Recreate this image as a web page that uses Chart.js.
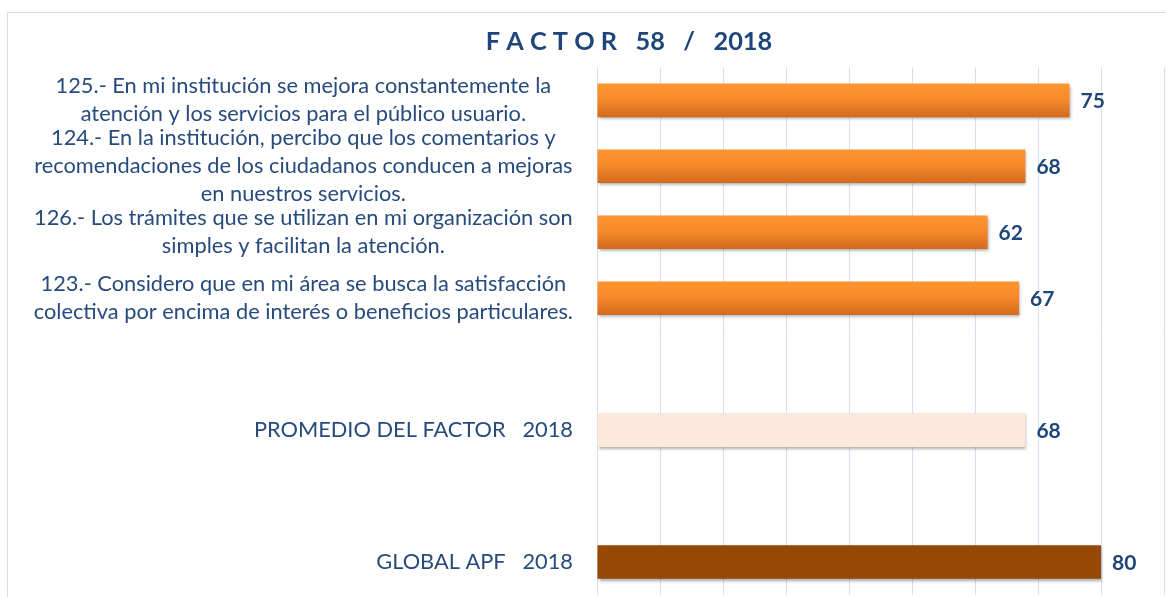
<!DOCTYPE html>
<html>
<head>
<meta charset="utf-8">
<script src="https://cdn.jsdelivr.net/npm/chart.js@4/dist/chart.umd.min.js"></script>
<style>
  html, body { margin: 0; padding: 0; background: #fff; }
  #wrap { position: relative; width: 1166px; height: 597px; overflow: hidden; }
  #frame { position: absolute; left: 7px; top: 12px; width: 1300px; height: 700px; border: 1px solid #d5e0ec; }
  #chart { position: absolute; left: 0; top: 0; }
</style>
</head>
<body>
<div id="wrap">
  <div id="frame"></div>
  <canvas id="chart" width="1166" height="597"></canvas>
</div>
<script>
// data, top to bottom
const categories = [
  ["125.- En mi institución se mejora constantemente la", "atención y los servicios para el público usuario."],
  ["124.- En la institución, percibo que los comentarios y", "recomendaciones de los ciudadanos conducen a mejoras", "en nuestros servicios."],
  ["126.- Los trámites que se utilizan en mi organización son", "simples y facilitan la atención."],
  ["123.- Considero que en mi área se busca la satisfacción", "colectiva por encima de interés o beneficios particulares."],
  "",
  "PROMEDIO DEL FACTOR   2018",
  "",
  "GLOBAL APF   2018"
];
const values = [75, 68, 62, 67, null, 68, null, 80];
const xTicks = [0, 10, 20, 30, 40, 50, 60, 70, 80, 90];

const textBlue = "#264b7c";
const labelFont = { family: "Lato", size: 21.8, lineHeight: 1.28 };

function barColor(context) {
  var i = context.dataIndex;
  if (i === 5) return "#fce9db";
  if (i === 7) return "#974706";
  var chart = context.chart;
  if (!chart.chartArea) return "#f28a2c";
  var y = chart.scales.y.getPixelForValue(i);
  var g = chart.ctx.createLinearGradient(0, y - 17, 0, y + 17);
  g.addColorStop(0, "#ff952f");
  g.addColorStop(0.45, "#f78b2b");
  g.addColorStop(1, "#d26a1f");
  return g;
}

// category axes: fixed width, no extra vertical padding for tall labels,
// and labels are allowed to spill out of the axis box
function fixAxis(width) {
  return function (scale) {
    scale.width = width;
    scale.paddingTop = 0;
    scale.paddingBottom = 0;
    scale._computeLabelArea = function () { return undefined; };
  };
}

const barShadow = {
  id: "barShadow",
  beforeDatasetsDraw: function (chart) {
    var ctx = chart.ctx;
    ctx.save();
    ctx.shadowColor = "rgba(0,0,0,0.35)";
    ctx.shadowBlur = 3;
    ctx.shadowOffsetX = 1;
    ctx.shadowOffsetY = 2;
  },
  afterDatasetsDraw: function (chart) {
    var ctx = chart.ctx;
    ctx.restore();
    // value labels at the end of each bar
    var meta = chart.getDatasetMeta(0);
    ctx.save();
    ctx.font = "bold 21px Lato";
    ctx.fillStyle = "#1f467a";
    ctx.textAlign = "left";
    ctx.textBaseline = "middle";
    meta.data.forEach(function (bar, i) {
      if (values[i] == null) return;
      ctx.fillText(String(values[i]), bar.x + 11, bar.y + 1);
    });
    ctx.restore();
  }
};

new Chart(document.getElementById("chart"), {
  type: "bar",
  data: {
    labels: categories,
    datasets: [{
      data: values,
      backgroundColor: barColor,
      borderWidth: 0,
      barPercentage: 0.51,
      categoryPercentage: 1
    }]
  },
  plugins: [barShadow],
  options: {
    indexAxis: "y",
    responsive: false,
    animation: false,
    layout: { padding: { left: 94, right: 2, top: 0, bottom: 2 } },
    plugins: {
      legend: { display: false },
      tooltip: { enabled: false },
      title: {
        display: true,
        text: "F A C T O R   58   /   2018",
        color: "#1f467a",
        font: { family: "Lato", size: 25.3, weight: "bold" },
        padding: { top: 27, bottom: 10 }
      }
    },
    scales: {
      x: {
        min: 0,
        max: 90,
        afterBuildTicks: function (scale) {
          scale.ticks = xTicks.map(function (v) { return { value: v }; });
        },
        ticks: { display: false },
        grid: { color: "#d6e1ef", lineWidth: 1, drawTicks: false },
        border: { display: false }
      },
      y: {
        weight: 1,
        grid: { display: false, drawTicks: false },
        border: { display: false },
        ticks: {
          autoSkip: false,
          crossAlign: "center",
          padding: 24,
          color: textBlue,
          font: labelFont,
          callback: function (v, i) { return Array.isArray(categories[i]) ? categories[i] : ""; }
        },
        afterFit: fixAxis(503)
      },
      y2: {
        type: "category",
        position: "left",
        offset: true,
        weight: 0,
        grid: { display: false, drawTicks: false },
        border: { display: false },
        ticks: {
          autoSkip: false,
          crossAlign: "near",
          padding: 24,
          color: textBlue,
          font: labelFont,
          callback: function (v, i) { return Array.isArray(categories[i]) ? "" : categories[i]; }
        },
        afterFit: fixAxis(0)
      }
    }
  }
});
</script>
</body>
</html>
